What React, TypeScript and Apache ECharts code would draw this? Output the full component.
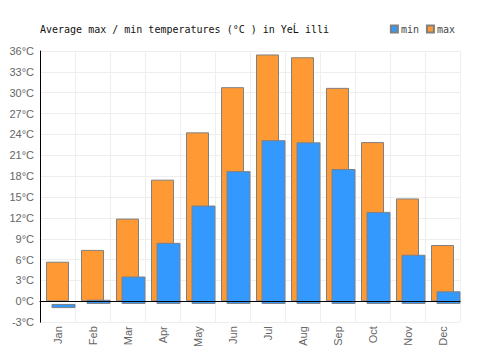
import React, { useEffect, useRef } from "react";
import * as echarts from "echarts";

const months = ["Jan", "Feb", "Mar", "Apr", "May", "Jun", "Jul", "Aug", "Sep", "Oct", "Nov", "Dec"];
const maxTemps = [5.7, 7.4, 11.9, 17.5, 24.3, 30.8, 35.5, 35.1, 30.7, 22.9, 14.8, 8.1];
const minTemps = [-0.6, 0.6, 3.9, 8.7, 14.0, 18.9, 23.3, 23.0, 19.2, 13.1, 7.0, 1.8];
const titleText = "Average max / min temperatures (°C ) in YeĹ illi";

const MONO = "'DejaVu Sans Mono', monospace";
const SANS = "'Liberation Sans', Arial, sans-serif";

export default function App() {
  const ref = useRef<HTMLDivElement>(null);
  useEffect(() => {
    if (!ref.current) return;
    const chart = echarts.init(ref.current, null, { renderer: "svg" });
    chart.setOption({
      animation: false,
      backgroundColor: "#ffffff",
      title: {
        text: titleText,
        left: 35,
        top: 19,
        textStyle: { fontFamily: MONO, fontSize: 10, fontWeight: "normal", color: "#111" },
      },
      legend: {
        data: ["min", "max"],
        right: 40,
        top: 19,
        itemWidth: 7,
        itemHeight: 7,
        itemGap: 7,
        icon: "rect",
        textStyle: { fontFamily: MONO, fontSize: 10, color: "#444", padding: [0, 0, 0, -2] },
      },
      grid: [
        { left: 40, right: 40, top: 51, bottom: 25 },
        { left: 46, right: 34, top: 51, bottom: 25 },
      ],
      xAxis: [
        {
          type: "category",
          gridIndex: 0,
          data: months,
          position: "bottom",
          axisLine: { show: false, onZero: false },
          axisTick: { show: false },
          axisLabel: { rotate: 90, color: "#666", fontFamily: SANS, fontSize: 11, margin: 4 },
          splitLine: { show: true, interval: 0, lineStyle: { color: "#eeeeee", width: 1 } },
        },
        {
          type: "category",
          gridIndex: 1,
          data: months,
          show: false,
        },
        {
          type: "category",
          gridIndex: 0,
          data: months,
          position: "top",
          z: 10,
          axisLine: { show: true, onZero: true, lineStyle: { color: "#000", width: 1 } },
          axisTick: { show: false },
          axisLabel: { show: false },
          splitLine: { show: false },
        },
      ],
      yAxis: [
        {
          type: "value",
          gridIndex: 0,
          min: -3,
          max: 36,
          interval: 3,
          axisLine: { show: true, lineStyle: { color: "#000", width: 1 } },
          axisTick: { show: false },
          axisLabel: { formatter: "{value}°C", color: "#666", fontFamily: SANS, fontSize: 11, margin: 6 },
          splitLine: { show: true, lineStyle: { color: "#eeeeee", width: 1 } },
        },
        {
          type: "value",
          gridIndex: 1,
          min: -3,
          max: 36,
          interval: 3,
          show: false,
          splitLine: { show: false },
        },
      ],
      series: [
        {
          name: "max",
          type: "bar",
          xAxisIndex: 0,
          yAxisIndex: 0,
          data: maxTemps,
          barWidth: 23,
          itemStyle: { color: "#ff9933", borderColor: "#808080", borderWidth: 1 },
        },
        {
          name: "min",
          type: "bar",
          xAxisIndex: 1,
          yAxisIndex: 1,
          data: minTemps,
          barWidth: 24,
          itemStyle: { color: "#3399ff", borderColor: "#808080", borderWidth: 1 },
        },
      ],
    });
    return () => chart.dispose();
  }, []);
  return (
    <div
      ref={ref}
      style={{ position: "absolute", left: 0, top: 0, width: 500, height: 350 }}
    />
  );
}
